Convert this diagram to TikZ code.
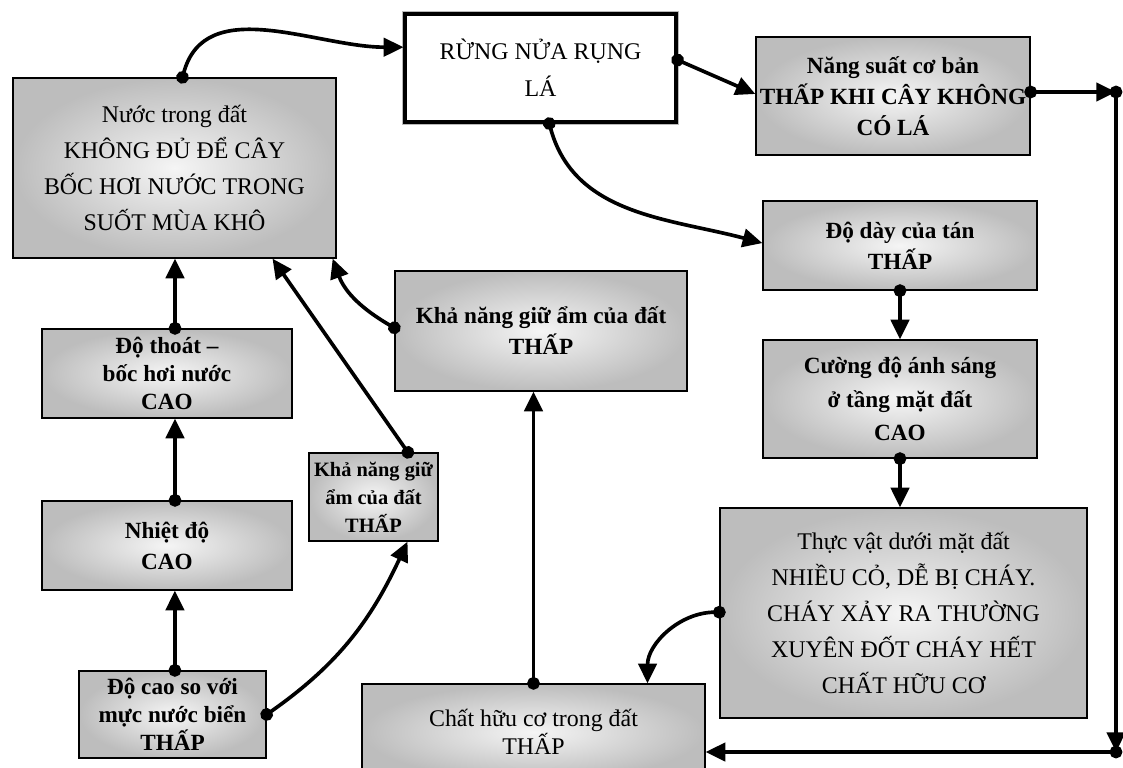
\documentclass[tikz,border=0pt]{standalone}
\usepackage{fontspec}
\setmainfont{Liberation Serif}
\usetikzlibrary{arrows.meta}

\begin{document}
\begin{tikzpicture}[x=0.025cm, y=0.025cm, font=\fontsize{17}{22}\selectfont]
    \tikzset{
      box/.style={draw, line width=0.9pt, align=center, inner sep=2pt,
                  inner color=gray!8, outer color=gray!52},
      mainbox/.style={draw, line width=2.2pt, fill=white, align=center,
                  preaction={draw=gray!55, line width=4.6pt}},
      heavy/.style={font=\fontsize{16.5}{22}\selectfont\bfseries},
      tight/.style={font=\fontsize{16.5}{20}\selectfont\bfseries},
      loose/.style={font=\fontsize{17}{25.5}\selectfont},
      link/.style={line width=2.6pt, shorten <=-4.5pt,
                   {Circle[length=9pt]}-{Triangle[length=14pt,width=13pt]}},
    }
    \useasboundingbox (0,0) rectangle (1123,-768);

    % left column
    \node[box, loose, minimum width=8.075cm, minimum height=4.5cm] (nuoc) at (174.5,-168)
      {Nước trong đất\\KHÔNG ĐỦ ĐỂ CÂY\\BỐC HƠI NƯỚC TRONG\\SUỐT MÙA KHÔ};
    \node[box, tight, minimum width=6.25cm, minimum height=2.225cm] (dothoat) at (167,-373.5)
      {Độ thoát --\\bốc hơi nước\\CAO};
    \node[box, heavy, minimum width=6.25cm, minimum height=2.225cm] (nhietdo) at (167,-545.5)
      {Nhiệt độ\\CAO};
    \node[box, tight, minimum width=4.675cm, minimum height=2.175cm, inner sep=0pt] (docao) at (172.5,-714.5)
      {Độ cao so với\\mực nước biển\\THẤP};

    % middle
    \node[mainbox, font=\fontsize{17}{26}\selectfont, minimum width=6.775cm, minimum height=2.7cm] (rung) at (540.5,-68)
      {RỪNG NỬA RỤNG\\LÁ};
    \node[box, heavy, minimum width=7.3cm, minimum height=3cm] (khanang1) at (541,-331)
      {Khả năng giữ ẩm của đất\\THẤP};
    \node[box, font=\fontsize{14.5}{20}\selectfont\bfseries, minimum width=3.225cm, minimum height=2.2cm, inner sep=0pt] (khanang2) at (373.5,-497)
      {Khả năng giữ\\ẩm của đất\\THẤP};
    \node[box, font=\fontsize{17}{20}\selectfont, minimum width=8.575cm, minimum height=2.4cm] (chathuuco) at (533.5,-732)
      {Chất hữu cơ trong đất\\THẤP};

    % right column
    \node[box, heavy, minimum width=6.85cm, minimum height=2.95cm, inner sep=0pt] (nangsuat) at (893,-96)
      {Năng suất cơ bản\\THẤP KHI CÂY KHÔNG\\CÓ LÁ};
    \node[box, heavy, minimum width=6.85cm, minimum height=2.225cm] (dodday) at (900,-245.5)
      {Độ dày của tán\\THẤP};
    \node[box, font=\fontsize{16.5}{24}\selectfont\bfseries, minimum width=6.85cm, minimum height=2.95cm] (cuongdo) at (900,-399)
      {Cường độ ánh sáng\\ở tầng mặt đất\\CAO};
    \node[box, loose, minimum width=9.175cm, minimum height=5.25cm] (thucvat) at (903.5,-613)
      {Thực vật dưới mặt đất\\NHIỀU CỎ, DỄ BỊ CHÁY.\\CHÁY XẢY RA THƯỜNG\\XUYÊN ĐỐT CHÁY HẾT\\CHẤT HỮU CƠ};

    \coordinate (ne) at (1116,-92);
    \coordinate (se) at (1116,-752);

    % connectors
    \draw[link] ([xshift=0.2cm]nuoc.north) to[out=75, in=180] ([yshift=0.52cm]rung.west);
    \draw[link] ([yshift=0.2cm]rung.east) -- ([yshift=0.05cm]nangsuat.west);
    \draw[link] ([xshift=0.22cm]rung.south) to[out=-75, in=165] ([yshift=0.06cm]dodday.west);
    \draw[link] ([yshift=0.1cm]nangsuat.east) -- (ne);
    \draw[link] (ne) -- (se);
    \draw[link] (se) -- (se -| chathuuco.east);
    \draw[link] (dodday.south) -- (cuongdo.north);
    \draw[link] (cuongdo.south) -- (cuongdo.south |- thucvat.north);
    \draw[link] ([yshift=0.02cm]thucvat.west) to[out=180, in=90] ([xshift=2.85cm]chathuuco.north);
    \draw[link] (chathuuco.north) -- (chathuuco.north |- khanang1.south);
    \draw[link] ([yshift=0.08cm]khanang1.west) to[out=150, in=-70] ([xshift=-0.1cm]nuoc.south east);
    \draw[link] ([xshift=0.86cm]khanang2.north) -- ([xshift=2.45cm]nuoc.south);
    \draw[link] (docao.east) to[out=35, in=-115] ([xshift=0.85cm]khanang2.south);
    \draw[link] ([xshift=0.06cm]docao.north) -- ([xshift=0.06cm]docao.north |- nhietdo.south);
    \draw[link] ([xshift=0.2cm]nhietdo.north) -- ([xshift=0.2cm]nhietdo.north |- dothoat.south);
    \draw[link] ([xshift=0.2cm]dothoat.north) -- ([xshift=0.2cm]dothoat.north |- nuoc.south);
\end{tikzpicture}
\end{document}
